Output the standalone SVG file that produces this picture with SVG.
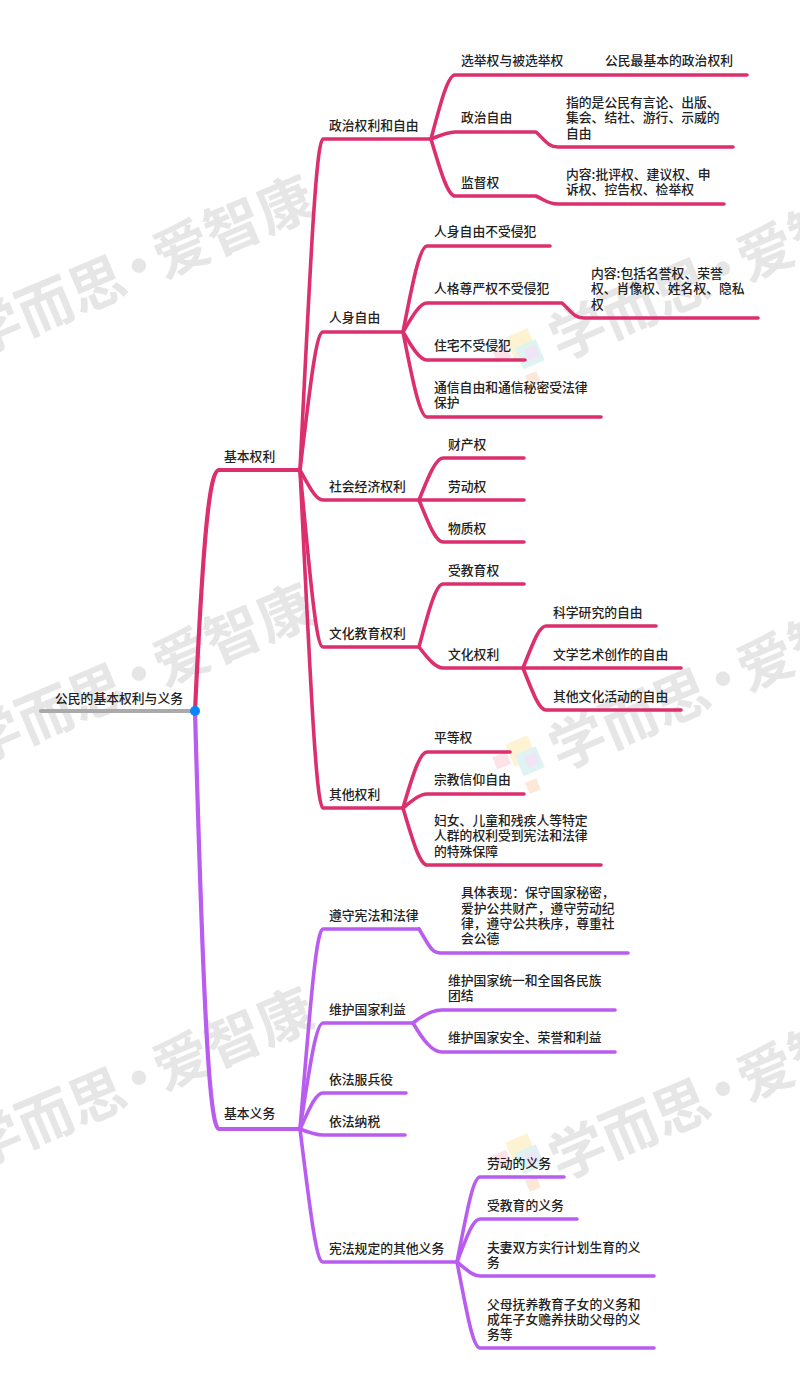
<svg xmlns="http://www.w3.org/2000/svg" width="800" height="1390" viewBox="0 0 800 1390">
<style>
text{font-family:"Noto Sans CJK SC","Liberation Sans",sans-serif;font-size:12.8px;font-weight:500;fill:#222}
.wm{font-size:56px;font-weight:700;fill:#e6e6e6}
.l{fill:none;stroke-width:3.6;stroke-linecap:round;stroke-linejoin:round}
.r{stroke:#dc2f6d}.p{stroke:#b95cf0}
.t{stroke-width:4.2}
</style>
<defs>
<g id="logo" opacity=".5"><rect x="-9" y="-13" width="24" height="24" fill="#fce9a8" transform="rotate(-23 3 -1)"/><rect x="0" y="-2" width="23" height="23" fill="#c3e8e8" transform="rotate(-23 11 9)"/><rect x="-24" y="2" width="15" height="13" fill="#f8c9d0" transform="rotate(-23 -16 8)"/><rect x="8" y="2" width="12" height="12" fill="#e3cdf0" transform="rotate(-23 14 8)"/><rect x="9" y="28" width="12" height="12" fill="#f9d2b0" transform="rotate(-23 15 34)"/></g>
<text id="wm" class="wm">学而思<tspan dx="-10">·</tspan><tspan dx="-10">爱智康</tspan></text>
</defs>
<rect width="800" height="1390" fill="#fff"/>
<g id="watermark">
<use href="#wm" transform="translate(-24,358) rotate(-23)"/>
<use href="#wm" transform="translate(560,361) rotate(-23)"/>
<use href="#wm" transform="translate(-24,766) rotate(-23)"/>
<use href="#wm" transform="translate(560,771) rotate(-23)"/>
<use href="#wm" transform="translate(-24,1170) rotate(-23)"/>
<use href="#wm" transform="translate(560,1181) rotate(-23)"/>
<use href="#logo" transform="translate(518,345)"/>
<use href="#logo" transform="translate(518,752)"/>
<use href="#logo" transform="translate(518,1150)"/>
</g>
<g id="connectors">
<path class="l t" stroke="#aaa" d="M41,711H195"/>
<path class="l t r" d="M195,711C203,542 209,470 219,470H300"/>
<path class="l t p" d="M195,711C203,998 209,1129 219,1129H300"/>
<g class="l r">
<path d="M300,470C310,271 316,139 323,139H431"/>
<path d="M300,470C310,387 316,332 323,332H403"/>
<path d="M300,470C310,488 316,500 323,500H419"/>
<path d="M300,470C310,576 316,647 323,647H419"/>
<path d="M300,470C310,673 316,808 323,808H403"/>
<path d="M431,139C441,101 448,75 455,75H747"/>
<path d="M431,139C441,135 448,132 455,132H536C545,140 548,147 558,147H733"/>
<path d="M431,139C441,173 448,196 455,196H536C545,200 548,204 558,204H724"/>
<path d="M403,332C413,280 420,246 427,246H550"/>
<path d="M403,332C413,315 420,303 427,303H562C571,311 574,318 584,318H758"/>
<path d="M403,332C413,349 420,360 427,360H525"/>
<path d="M403,332C413,383 420,417 427,417H601"/>
<path d="M419,500C429,475 436,458 443,458H524"/>
<path d="M419,500H524"/>
<path d="M419,500C429,525 436,542 443,542H524"/>
<path d="M419,647C429,609 436,584 443,584H524"/>
<path d="M419,647C429,660 436,668 443,668H523"/>
<path d="M523,668C533,643 539,626 546,626H656"/>
<path d="M523,668H681"/>
<path d="M523,668C533,693 539,710 546,710H681"/>
<path d="M403,808C413,774 420,752 427,752H510"/>
<path d="M403,808C413,800 420,794 427,794H524"/>
<path d="M403,808C413,842 420,865 427,865H601"/>
</g>
<g class="l p">
<path d="M300,1129C310,1009 316,929 323,929H419"/>
<path d="M300,1129C310,1065 316,1023 323,1023H413"/>
<path d="M300,1129C310,1107 316,1093 323,1093H406"/>
<path d="M300,1129C310,1133 316,1135 323,1135H405"/>
<path d="M300,1129C310,1209 316,1262 323,1262H457"/>
<path d="M419,929C429,945 431,953 441,953H628"/>
<path d="M413,1023C423,1015 432,1010 442,1010H615"/>
<path d="M413,1023C423,1040 432,1052 442,1052H615"/>
<path d="M457,1262C467,1211 473,1177 480,1177H564"/>
<path d="M457,1262C467,1236 473,1219 480,1219H577"/>
<path d="M457,1262C467,1270 473,1276 480,1276H654"/>
<path d="M457,1262C467,1314 473,1348 480,1348H654"/>
</g>
</g>
<circle id="dot" cx="195" cy="711" r="5" fill="#0a84ff"/>
<g id="n0"><text x="55" y="703">公民的基本权利与义务</text></g>
<g id="n1"><text x="224" y="461">基本权利</text></g>
<g id="n2"><text x="224" y="1118">基本义务</text></g>
<g id="n3"><text x="329" y="130">政治权利和自由</text></g>
<g id="n4"><text x="461" y="65">选举权与被选举权</text><text x="605" y="65">公民最基本的政治权利</text></g>
<g id="n5"><text x="461" y="122">政治自由</text></g>
<g id="n6"><text x="566" y="107">指的是公民有言论、出版、</text><text x="566" y="122">集会、结社、游行、示威的</text><text x="566" y="138">自由</text></g>
<g id="n7"><text x="461" y="187">监督权</text></g>
<g id="n8"><text x="566" y="179">内容:批评权、建议权、申</text><text x="566" y="194">诉权、控告权、检举权</text></g>
<g id="n9"><text x="329" y="322">人身自由</text></g>
<g id="n10"><text x="434" y="236">人身自由不受侵犯</text></g>
<g id="n11"><text x="434" y="293">人格尊严权不受侵犯</text></g>
<g id="n12"><text x="591" y="278">内容:包括名誉权、荣誉</text><text x="591" y="293">权、肖像权、姓名权、隐私</text><text x="591" y="309">权</text></g>
<g id="n13"><text x="434" y="350">住宅不受侵犯</text></g>
<g id="n14"><text x="434" y="392">通信自由和通信秘密受法律</text><text x="434" y="407">保护</text></g>
<g id="n15"><text x="329" y="491">社会经济权利</text></g>
<g id="n16"><text x="448" y="449">财产权</text></g>
<g id="n17"><text x="448" y="491">劳动权</text></g>
<g id="n18"><text x="448" y="533">物质权</text></g>
<g id="n19"><text x="329" y="638">文化教育权利</text></g>
<g id="n20"><text x="448" y="575">受教育权</text></g>
<g id="n21"><text x="448" y="659">文化权利</text></g>
<g id="n22"><text x="553" y="617">科学研究的自由</text></g>
<g id="n23"><text x="553" y="659">文学艺术创作的自由</text></g>
<g id="n24"><text x="553" y="701">其他文化活动的自由</text></g>
<g id="n25"><text x="329" y="799">其他权利</text></g>
<g id="n26"><text x="434" y="742">平等权</text></g>
<g id="n27"><text x="434" y="784">宗教信仰自由</text></g>
<g id="n28"><text x="434" y="825">妇女、儿童和残疾人等特定</text><text x="434" y="840">人群的权利受到宪法和法律</text><text x="434" y="856">的特殊保障</text></g>
<g id="n29"><text x="329" y="920">遵守宪法和法律</text></g>
<g id="n30"><text x="461" y="897">具体表现：保守国家秘密，</text><text x="461" y="913">爱护公共财产，遵守劳动纪</text><text x="461" y="928">律，遵守公共秩序，尊重社</text><text x="461" y="943">会公德</text></g>
<g id="n31"><text x="329" y="1014">维护国家利益</text></g>
<g id="n32"><text x="448" y="985">维护国家统一和全国各民族</text><text x="448" y="1000">团结</text></g>
<g id="n33"><text x="448" y="1042">维护国家安全、荣誉和利益</text></g>
<g id="n34"><text x="329" y="1084">依法服兵役</text></g>
<g id="n35"><text x="329" y="1126">依法纳税</text></g>
<g id="n36"><text x="329" y="1253">宪法规定的其他义务</text></g>
<g id="n37"><text x="487" y="1168">劳动的义务</text></g>
<g id="n38"><text x="487" y="1210">受教育的义务</text></g>
<g id="n39"><text x="487" y="1252">夫妻双方实行计划生育的义</text><text x="487" y="1267">务</text></g>
<g id="n40"><text x="487" y="1309">父母抚养教育子女的义务和</text><text x="487" y="1324">成年子女赡养扶助父母的义</text><text x="487" y="1339">务等</text></g>
</svg>
